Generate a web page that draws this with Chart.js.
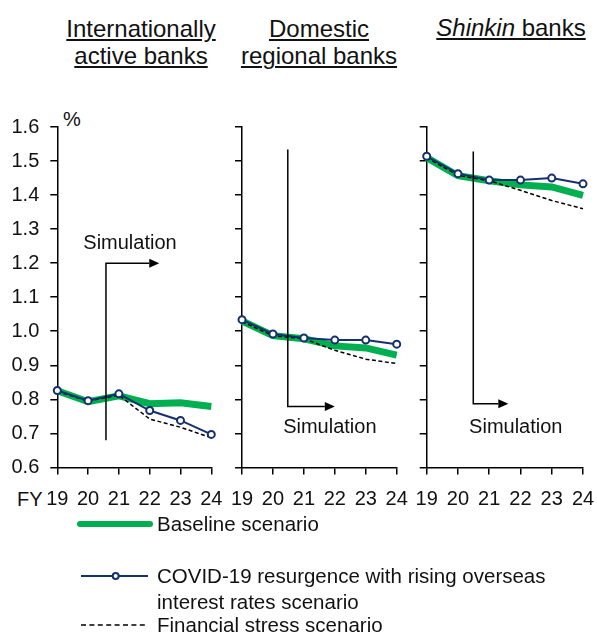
<!DOCTYPE html>
<html>
<head>
<meta charset="utf-8">
<script src="https://cdn.jsdelivr.net/npm/chart.js@4.4.1/dist/chart.umd.min.js"></script>
<style>
  html, body { margin: 0; background: #fff; overflow: hidden; }
  #wrap { position: relative; width: 597px; height: 637px; overflow: hidden; font-family: "Liberation Sans", Arial, sans-serif; color: #111; }
  canvas { position: absolute; }
  .title { position: absolute; font-size: 24px; line-height: 27px; text-align: center; white-space: nowrap;
           text-decoration: underline; text-decoration-thickness: 2px; text-underline-offset: 2px; transform: translateX(-50%); }
  .lbl { position: absolute; font-size: 20px; line-height: 20px; white-space: nowrap; }
  .leg { position: absolute; font-size: 20.5px; line-height: 26px; white-space: nowrap; }
  svg { position: absolute; overflow: visible; }
</style>
</head>
<body>
<div id="wrap">
  <div class="title" style="left:141px; top:15px;">Internationally<br>active banks</div>
  <div class="title" style="left:319px; top:15px;">Domestic<br>regional banks</div>
  <div class="title" style="left:511px; top:14px;"><i>Shinkin</i> banks</div>

  <div class="lbl" style="left:63px; top:109px;">%</div>
  <div class="lbl" style="left:17px; top:489px;">FY</div>

  <canvas id="c1" width="238" height="420" style="left:0px; top:100px;"></canvas>
  <canvas id="c2" width="207" height="420" style="left:216px; top:100px;"></canvas>
  <canvas id="c3" width="208" height="420" style="left:401px; top:100px;"></canvas>

  <svg width="70" height="10" style="left:80px; top:519px;"><line x1="0" y1="5" x2="70" y2="5" stroke="#00b050" stroke-width="6" stroke-linecap="round"/></svg>
  <div class="leg" style="left:157px; top:511px;">Baseline scenario</div>

  <svg width="67" height="10" style="left:81px; top:571px;"><line x1="0" y1="5" x2="67" y2="5" stroke="#15306f" stroke-width="2"/><circle cx="34.7" cy="5" r="3" fill="#fff" stroke="#15306f" stroke-width="2"/></svg>
  <div class="leg" style="left:157px; top:563px;">COVID-19 resurgence with rising overseas</div>
  <div class="leg" style="left:157px; top:589px;">interest rates scenario</div>

  <svg width="67" height="10" style="left:81px; top:620px;"><line x1="0" y1="5" x2="67" y2="5" stroke="#000" stroke-width="1.5" stroke-dasharray="5 3.4"/></svg>
  <div class="leg" style="left:157px; top:612px;">Financial stress scenario</div>
</div>

<script>
const years = ["19", "20", "21", "22", "23", "24"];

// Internationally active banks
const intlBaseline = [0.825, 0.793, 0.810, 0.787, 0.790, 0.779];
const intlCovid    = [0.826, 0.796, 0.816, 0.767, 0.738, 0.697];
const intlStress   = [0.823, 0.795, 0.812, 0.742, 0.718, 0.687];

// Domestic regional banks
const domBaseline = [1.030, 0.987, 0.978, 0.957, 0.951, 0.930];
const domCovid    = [1.034, 0.992, 0.980, 0.974, 0.974, 0.962];
const domStress   = [1.028, 0.987, 0.978, 0.944, 0.918, 0.905];

// Shinkin banks
const shinBaseline = [1.510, 1.457, 1.442, 1.430, 1.424, 1.399];
const shinCovid    = [1.514, 1.463, 1.444, 1.444, 1.450, 1.433];
const shinStress   = [1.510, 1.458, 1.442, 1.414, 1.384, 1.360];

Chart.defaults.font.family = '"Liberation Sans", Arial, sans-serif';
Chart.defaults.font.size = 20;
Chart.defaults.color = '#111';

const green = '#00b050';
const navy = '#15306f';

// "Simulation" arrow, given in data units (category index, %)
const simArrow = {
  id: 'simArrow',
  afterDatasetsDraw(chart, args, opts) {
    const ctx = chart.ctx;
    const xs = chart.scales.x, ys = chart.scales.y;
    const x = xs.getPixelForValue(opts.x);
    const y0 = ys.getPixelForValue(opts.from);
    const y1 = ys.getPixelForValue(opts.to);
    const xe = xs.getPixelForValue(opts.tip);
    const head = 10;
    ctx.save();
    ctx.strokeStyle = '#000';
    ctx.fillStyle = '#000';
    ctx.lineWidth = 1.5;
    ctx.beginPath();
    ctx.moveTo(x, y0);
    ctx.lineTo(x, y1);
    ctx.lineTo(xe - head, y1);
    ctx.stroke();
    ctx.beginPath();
    ctx.moveTo(xe, y1);
    ctx.lineTo(xe - head, y1 - 4.5);
    ctx.lineTo(xe - head, y1 + 4.5);
    ctx.closePath();
    ctx.fill();
    ctx.font = '20px "Liberation Sans", Arial, sans-serif';
    ctx.textAlign = 'center';
    ctx.textBaseline = 'middle';
    ctx.fillStyle = '#111';
    ctx.fillText('Simulation', xs.getPixelForValue(opts.textX), ys.getPixelForValue(opts.textY));
    ctx.restore();
  }
};

function makePanel(id, baseline, covid, stress, axisWidth, padRight, showLabels, arrow) {
  new Chart(document.getElementById(id), {
    type: 'line',
    data: {
      labels: years,
      datasets: [
        { label: 'COVID-19 resurgence with rising overseas interest rates scenario', data: covid,
          borderColor: navy, borderWidth: 2, pointRadius: 3.5, pointBorderWidth: 2,
          pointBackgroundColor: '#fff', pointBorderColor: navy },
        { label: 'Financial stress scenario', data: stress,
          borderColor: '#000', borderWidth: 1.5, borderDash: [4, 2.5], pointRadius: 0 },
        { label: 'Baseline scenario', data: baseline,
          borderColor: green, borderWidth: 7, pointRadius: 0 }
      ]
    },
    options: {
      responsive: false,
      animation: false,
      layout: { padding: { top: 27, right: padRight, left: 0, bottom: 0 } },
      plugins: { legend: { display: false }, tooltip: { enabled: false }, simArrow: arrow },
      scales: {
        x: {
          offset: false,
          border: { display: true, color: '#000', width: 1.5 },
          grid: { display: true, drawOnChartArea: false, drawTicks: true, tickLength: 7, color: '#000', lineWidth: 1.5 },
          ticks: { autoSkip: false, maxRotation: 0, padding: 13, color: '#111' },
          afterFit(s) { s.height = 52.6; }
        },
        y: {
          min: 0.6, max: 1.6,
          border: { display: true, color: '#000', width: 1.5 },
          grid: { display: true, drawOnChartArea: false, drawTicks: true, tickLength: 7, color: '#000', lineWidth: 1.5 },
          ticks: { display: showLabels, stepSize: 0.1, padding: 11, color: '#111',
                   callback: v => Number(v).toFixed(1) },
          afterFit(s) { s.width = axisWidth; }
        }
      }
    },
    plugins: [simArrow]
  });
}

makePanel('c1', intlBaseline, intlCovid, intlStress, 57.3, 26.7, true,
  { x: 1.58, from: 0.68, to: 1.2, tip: 3.31, textX: 2.36, textY: 1.259 });
makePanel('c2', domBaseline, domCovid, domStress, 26, 26.3, false,
  { x: 1.48, from: 1.534, to: 0.779, tip: 3.0, textX: 2.84, textY: 0.716 });
makePanel('c3', shinBaseline, shinCovid, shinStress, 25.7, 26, false,
  { x: 1.49, from: 1.528, to: 0.787, tip: 2.61, textX: 2.85, textY: 0.716 });
</script>
</body>
</html>
